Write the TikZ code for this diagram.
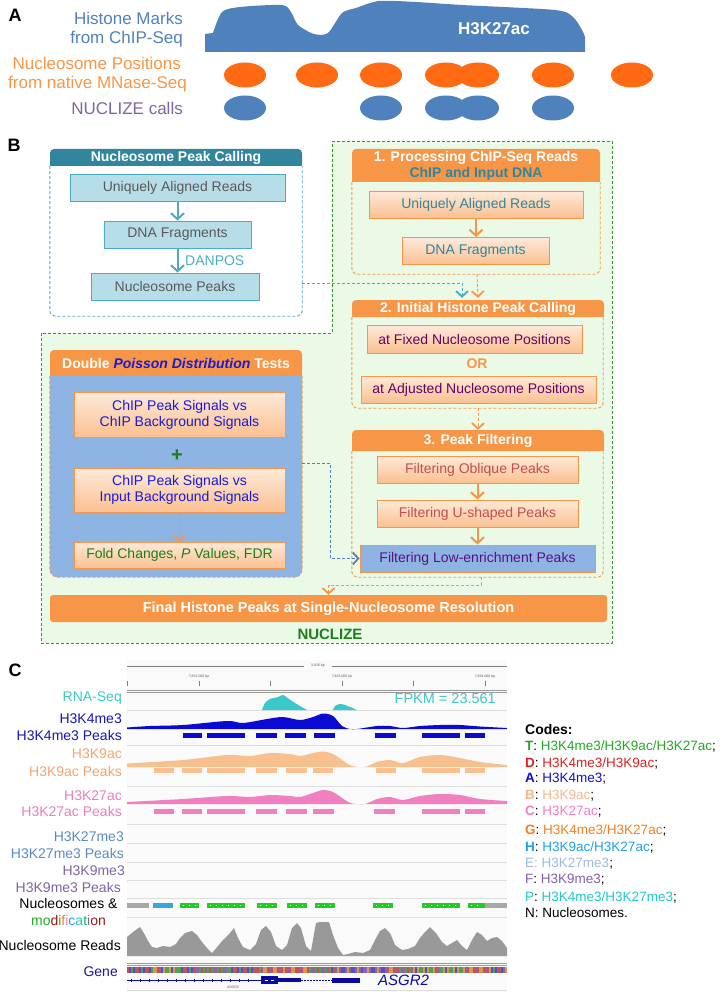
\documentclass[tikz,border=0pt]{standalone}
\usepackage{fontspec}
\setmainfont{Liberation Sans}
\usetikzlibrary{arrows.meta,calc}
\definecolor{tealH}{HTML}{31859C}
\definecolor{tealL}{HTML}{4BACC6}
\definecolor{lblue}{HTML}{B7DEE8}
\definecolor{orng}{HTML}{F79646}
\definecolor{oTop}{HTML}{FDEADA}
\definecolor{oBot}{HTML}{FBC090}
\definecolor{bluebox}{HTML}{8EB4E3}
\definecolor{lgreen}{HTML}{EAFAE6}
\definecolor{gdash}{HTML}{2E9A2E}
\definecolor{gray6}{HTML}{595959}
\definecolor{purp}{HTML}{660066}
\definecolor{redb}{HTML}{C0504D}
\definecolor{purpL}{HTML}{5B1080}
\definecolor{blueT}{HTML}{1A1AD6}
\definecolor{greenT}{HTML}{1A7F1A}
\definecolor{steelA}{HTML}{4F81BD}
\definecolor{orngN}{HTML}{FF6A13}
\definecolor{purpA}{HTML}{8064A2}
\definecolor{rnaC}{HTML}{3CC8C8}
\definecolor{k4C}{HTML}{0A0AD2}
\definecolor{k4L}{HTML}{1515B8}
\definecolor{k9C}{HTML}{F8C08E}
\definecolor{k9L}{HTML}{F2A46C}
\definecolor{k27C}{HTML}{F080C0}
\definecolor{k27L}{HTML}{EE7DBE}
\definecolor{k27me3L}{HTML}{5A8AC6}
\definecolor{k9me3L}{HTML}{8064A2}
\definecolor{nucG}{HTML}{22CC22}
\definecolor{nucB}{HTML}{33A8DD}
\definecolor{grayN}{HTML}{A8A8A8}
\definecolor{readsC}{HTML}{999999}
\definecolor{geneC}{HTML}{0A0AA0}
\definecolor{geneL}{HTML}{1A1A90}
\definecolor{sepC}{HTML}{DDDDDD}
\definecolor{sqR}{HTML}{C85050}
\definecolor{sqG}{HTML}{50A050}
\definecolor{sqB}{HTML}{5050C8}
\definecolor{sqO}{HTML}{D89848}
\definecolor{sqP}{HTML}{9060A8}
\definecolor{cT}{HTML}{22AA22}
\definecolor{cD}{HTML}{E02020}
\definecolor{cA}{HTML}{1010D0}
\definecolor{cB}{HTML}{F5B88C}
\definecolor{cC}{HTML}{EE80C8}
\definecolor{cG}{HTML}{F08020}
\definecolor{cH}{HTML}{20A0E0}
\definecolor{cE}{HTML}{A0B8E0}
\definecolor{cF}{HTML}{8060B0}
\definecolor{cP}{HTML}{20C8C8}
\newcommand\mkhdr[5]{\fill[#1,rounded corners=4pt] (#2,#3) rectangle (#4,#5); \fill[#1] (#2,{(#3+#5)/2}) rectangle (#4,#5);}
\tikzset{
 fbox/.style={font=\fontsize{14}{16.5}\selectfont},
 tbox/.style={draw=tealL, fill=lblue, line width=0.9pt, text=gray6, inner sep=0pt, minimum height=27pt, fbox},
 obox/.style={draw=orng, line width=0.9pt, top color=oTop, bottom color=oBot, inner sep=0pt, minimum height=27pt, fbox, align=center},
 hdr/.style={text=white, inner sep=0pt, font=\bfseries\fontsize{14}{17}\selectfont, align=center},
 sarrT/.style={draw=tealL, line width=2pt, -{Straight Barb[length=6pt,width=13pt,line width=2pt]}},
 sarrO/.style={draw=orng, line width=2pt, -{Straight Barb[length=6pt,width=13pt,line width=2pt]}},
 dsh/.style={line width=0.9pt, dash pattern=on 3pt off 2pt},
 dtip/.style={-{Straight Barb[length=5.5pt,width=12pt,line width=1.8pt]}},
 lblA/.style={anchor=east, inner sep=0pt, font=\fontsize{17}{20}\selectfont},
 lblC/.style={anchor=east, inner sep=0pt, font=\fontsize{14}{17}\selectfont},
 code/.style={anchor=west, inner sep=0pt, font=\fontsize{13.5}{16}\selectfont},
 panel/.style={inner sep=0pt, font=\bfseries\fontsize{18}{20}\selectfont},
 tiny/.style={inner sep=0pt, font=\fontsize{3.5}{4}\selectfont, text=gray6},
}
\begin{document}
\begin{tikzpicture}[x=1pt,y=-1pt]
\useasboundingbox (0,0) rectangle (721,992);
% ================= Panel A =================
\node[panel] (pA) at (15,15) {A};
\node[lblA, text=steelA] (a1) at (183,18) {Histone Marks};
\node[lblA, text=steelA] (a2) at (183,39) {from ChIP-Seq};
\node[lblA, text=orng] (a3) at (181,63) {Nucleosome Positions};
\node[lblA, text=orng] (a4) at (187,84) {from native MNase-Seq};
\node[lblA, text=purpA] (a5) at (183,108) {NUCLIZE calls};
\fill[steelA] (205,52) -- (205,34) -- plot[smooth,tension=0.45] coordinates {(213,33) (222,12) (240,7) (282,5) (291,12) (298,25) (314,34) (328,33) (342,13) (356,8) (379,1) (416,2) (462,5) (555,10) (573,17) (582,30) (585,37)} -- (585,52) -- cycle;
\node[inner sep=0pt, text=white, font=\bfseries\fontsize{17}{20}\selectfont] (k27lab) at (494,29) {H3K27ac};
\foreach \x in {245,317,381,446,478,553,632} \fill[orngN] (\x,75) ellipse [x radius=21pt, y radius=12.5pt];
\foreach \x in {245,381,446,478,553} \fill[steelA] (\x,108) ellipse [x radius=21pt, y radius=12.5pt];
% ================= Panel B =================
\node[panel] (pB) at (14,145) {B};
\draw[gdash, dsh, fill=lgreen] (332,141) -- (612,141) -- (612,643) -- (41,643) -- (41,333) -- (332,333) -- cycle;
% left teal container
\mkhdr{tealH}{50}{149}{302}{166}
\node[hdr, minimum width=252pt, minimum height=17pt] (h0) at (176,157.5) {Nucleosome Peak Calling};
\draw[tealL, dsh, rounded corners=6pt] (h0.south west) -- ++(0,150) -| (h0.south east);
\node[tbox, minimum width=215pt] (lb1) at (177.5,187.5) {Uniquely Aligned Reads};
\node[tbox, minimum width=147pt] (lb2) at (177.5,234.5) {DNA Fragments};
\node[tbox, minimum width=168pt] (lb3) at (175,286.5) {Nucleosome Peaks};
\draw[sarrT] (lb1.south) -- (lb2.north);
\draw[sarrT] (lb2.south) -- (lb2.south |- lb3.north);
\node[anchor=west, inner sep=0pt, text=tealL, fbox] (danpos) at (185,261) {DANPOS};
% right box 1
\mkhdr{orng}{352}{149}{600}{182}
\node[hdr, minimum width=248pt, minimum height=33pt] (h1) at (476,165.5) {1. Processing ChIP-Seq Reads\\[-1pt] \textcolor{tealH}{ChIP and Input DNA}};
\draw[orng, dsh, rounded corners=6pt] (h1.south west) -- ++(0,92) -| (h1.south east);
\node[obox, minimum width=214pt, text=tealH] (rb1) at (476,204.5) {Uniquely Aligned Reads};
\node[obox, minimum width=147pt, text=tealH] (rb2) at (475.5,251) {DNA Fragments};
\draw[sarrO] (rb1.south) -- (rb1.south |- rb2.north);
% right box 2
\mkhdr{orng}{352}{300}{604}{317}
\node[hdr, minimum width=252pt, minimum height=17pt] (h2) at (478,308.5) {2. Initial Histone Peak Calling};
\draw[orng, dsh, rounded corners=6pt] (h2.south west) -- ++(0,91) -| ([xshift=-1pt]h2.south east);
\node[obox, minimum width=215pt, minimum height=28pt, text=purp] (fixed) at (474.5,339) {at Fixed Nucleosome Positions};
\node[inner sep=0pt, text=orng, font=\bfseries\fontsize{14}{16}\selectfont] (or) at (477,364) {OR};
\node[obox, minimum width=235pt, text=purp] (adj) at (478.5,389.5) {at Adjusted Nucleosome Positions};
% right box 3
\mkhdr{orng}{352}{430}{604}{451}
\node[hdr, minimum width=252pt, minimum height=21pt] (h3) at (478,440.5) {3. Peak Filtering};
\draw[orng, dsh, rounded corners=6pt] (h3.south west) -- ++(0,126) -| ([xshift=-1pt]h3.south east);
\node[obox, minimum width=201pt, text=redb] (obl) at (477.5,469.5) {Filtering Oblique Peaks};
\node[obox, minimum width=201pt, text=redb] (ush) at (477.5,513.5) {Filtering U-shaped Peaks};
\node[draw=orng, line width=0.9pt, fill=bluebox, inner sep=0pt, minimum height=27pt, minimum width=235pt, fbox, text=purpL] (low) at (477.5,558.5) {Filtering Low-enrichment Peaks};
\draw[sarrO] (obl.south) -- (obl.south |- ush.north);
\draw[sarrO] (ush.south) -- (ush.south |- low.north);
% Double Poisson
\mkhdr{orng}{50}{350}{302}{376}
\node[hdr, minimum width=252pt, minimum height=26pt] (hp) at (176,363) {Double \textcolor{blueT}{\itshape Poisson Distribution} Tests};
\draw[orng, dsh, fill=bluebox, rounded corners=8pt] (hp.south west) -- ++(0,201) -| (hp.south east);
\node[obox, minimum width=211pt, minimum height=45pt, text=blueT, font=\fontsize{14}{16}\selectfont] (c1) at (179.5,414.5) {ChIP Peak Signals vs\\ChIP Background Signals};
\node[inner sep=0pt, text=greenT, font=\bfseries\fontsize{20}{20}\selectfont] (plus) at (177,456) {+};
\node[obox, minimum width=211pt, minimum height=44pt, text=blueT, font=\fontsize{14}{16}\selectfont] (c2) at (179.5,490) {ChIP Peak Signals vs\\Input Background Signals};
\node[obox, minimum width=211pt, minimum height=26pt, text=greenT] (fold) at (179.5,555) {Fold Changes, \textit{P} Values, FDR};
\draw[draw=orng, line width=1.5pt, -{Straight Barb[length=6pt,width=13pt,line width=1.5pt]}] (c2.south) -- (fold.north);
% final
\node[fill=orng, rounded corners=3pt, minimum width=557pt, minimum height=27pt, inner sep=0pt, text=white, font=\bfseries\fontsize{14.5}{17}\selectfont] (final) at (328.5,608.5) {Final Histone Peaks at Single-Nucleosome Resolution};
\node[inner sep=0pt, text=greenT, font=\bfseries\fontsize{15}{17}\selectfont] (nuclize) at (330,634) {NUCLIZE};
% dashed connectors
\coordinate (nb) at (302,283);
\coordinate (pb) at (302,463);
\coordinate (b1bot) at (477,274);
\coordinate (b2bot) at (478,408);
\coordinate (b3bot) at (481,577);
\draw[tealL, dsh, dtip] (nb) -| ([xshift=-16pt,yshift=2pt]h2.north);
\draw[orng, dsh, dtip] (b1bot) -- ([yshift=2pt]h2.north);
\draw[orng, dsh, dtip] (b2bot) -- (h3.north);
\draw[steelA, dsh, dtip] (pb) -- ++(28,0) |- (low.west);
\draw[orng, dsh, dtip] (b3bot) -- ++(0,8) -| (final.north);
% ================= Panel C =================
\node[panel] (pC) at (15,670) {C};
\fill[black!2] (127,660) rectangle (507,992);
% ruler
\draw[gray, line width=0.5pt] (127,666) -- (304,666) (332,666) -- (507,666);
\node[tiny] (rl) at (318,666) {3,026 bp};
\node[tiny] (t1) at (199,677) {7,832,000 bp};
\node[tiny] (t2) at (342,677) {7,833,000 bp};
\node[tiny] (t3) at (485,677) {7,834,000 bp};
\foreach \x in {127,199,270,342,413,485} \draw[gray, line width=0.4pt] (\x,681) -- (\x,686);
\draw[gray!80, line width=1pt] (127,690) -- (507,690);
\draw[gray!80, line width=1pt] (127,692.5) -- (507,692.5);
\foreach \yy in {710,745,786,824,843,862,880,898,917,990} \draw[sepC, line width=0.6pt] (127,\yy) -- (507,\yy);
% labels
\node[lblC, text=rnaC] (lrna) at (122,698) {RNA-Seq};
\node[lblC, text=k4L] (lk4) at (122,719) {H3K4me3};
\node[lblC, text=k4L] (lk4p) at (122,735) {H3K4me3 Peaks};
\node[lblC, text=k9L] (lk9) at (122,754) {H3K9ac};
\node[lblC, text=k9L] (lk9p) at (122,771) {H3K9ac Peaks};
\node[lblC, text=k27L] (lk27) at (122,796) {H3K27ac};
\node[lblC, text=k27L] (lk27p) at (122,811) {H3K27ac Peaks};
\node[lblC, text=k27me3L] (lk27m) at (124,837) {H3K27me3};
\node[lblC, text=k27me3L] (lk27mp) at (124,853) {H3K27me3 Peaks};
\node[lblC, text=k9me3L] (lk9m) at (125,871) {H3K9me3};
\node[lblC, text=k9me3L] (lk9mp) at (121,887) {H3K9me3 Peaks};
\node[inner sep=0pt, font=\fontsize{14}{17}\selectfont] (lnuc) at (68.5,903) {Nucleosomes \&};
\node[inner sep=0pt, font=\fontsize{14}{17}\selectfont] (lmod) at (68.5,920) {\textcolor{cT}{mo}\textcolor{cD!70!black}{d}\textcolor{cT}{i}\textcolor{cG}{f}\textcolor{cC}{i}\textcolor{cH}{c}\textcolor{cP}{a}\textcolor{cT!70!cP}{t}\textcolor{cF}{i}\textcolor{cD!70!black}{on}};
\node[lblC] (lreads) at (121,945) {Nucleosome Reads};
\node[lblC, text=geneL] (lgene) at (118,972) {Gene};
\node[anchor=east, inner sep=0pt, text=rnaC, font=\fontsize{14.5}{17}\selectfont] (fpkm) at (496,699) {FPKM = 23.561};
% RNA signal
\fill[rnaC] plot[smooth] coordinates {(262,710) (265,703) (270,699) (278,697) (283,695) (289,699) (295,703) (300,706) (307,710)} -- cycle;
\fill[rnaC] plot[smooth] coordinates {(333,710) (335,706) (340,704) (345,705) (350,707) (357,710)} -- cycle;
% H3K4me3
\fill[k4C] (127,729) -- plot[smooth,tension=0.5] coordinates {(127,727.5) (150,726) (183,725) (227,721) (243,723) (267,719) (283,717) (300,720) (313,717) (323,713.5) (333,716) (342,726) (350,729) (357,729) (377,726) (390,726) (403,728) (420,726) (440,725) (460,725) (480,726.5) (507,728)} -- (507,729) -- cycle;
\foreach \a/\b in {183/202,207/245,256/277,285/306,314/335,375/396,422/460,465/485} \fill[k4C] (\a,733) rectangle (\b,737.5);
% H3K9ac
\fill[k9C] (127,767) -- plot[smooth,tension=0.5] coordinates {(127,763.5) (183,760) (227,755) (250,756) (270,753) (290,754) (300,756) (313,753) (323,751.5) (333,754) (345,762) (352,766) (365,767) (377,762) (390,760) (403,763) (420,757) (440,755) (460,758) (480,762) (507,765)} -- (507,767) -- cycle;
\foreach \a/\b in {154/174,182/202,207/245,256/277,286/307,313/333,376/396,422/460,465/485} \fill[k9C] (\a,768) rectangle (\b,772.5);
% H3K27ac
\fill[k27C] (127,804) -- plot[smooth,tension=0.5] coordinates {(127,802) (183,799) (227,796) (250,797) (270,795) (290,796) (300,797) (313,793) (323,790) (333,792) (345,800) (352,803.5) (365,804) (377,799) (390,797) (403,800) (420,796) (440,794) (460,795) (480,799) (507,801)} -- (507,804) -- cycle;
\foreach \a/\b in {154/174,182/202,207/245,256/277,286/307,313/334,374/395,422/460,465/485} \fill[k27C] (\a,809) rectangle (\b,813.5);
% nucleosome bars
\fill[grayN] (127,902.5) rectangle (149,907.5);
\fill[nucB] (153,902.5) rectangle (173,907.5);
\foreach \a/\b in {180/199,207/245,257/277,287/307,315/335,373/393,422/460,468/485} {\fill[nucG] (\a,902.5) rectangle (\b,907.5);
 \draw[white, line width=0.5pt, dash pattern=on 1pt off 5pt] (\a+3,905) -- (\b-2,905);}
\fill[grayN] (485,902.5) rectangle (507,907.5);
% nucleosome reads
\fill[readsC] plot coordinates {(127,956) (127,937) (133,932) (140,927) (145,935) (148,941) (152,947) (157,948) (163,946) (170,947) (176,944) (180,938) (185,933) (192,931) (197,935) (202,942) (207,948) (212,953) (218,946) (223,940) (230,933) (234,928) (238,938) (243,947) (250,950) (256,944) (261,930) (266,926) (271,932) (276,946) (282,950) (287,945) (292,928) (297,923) (301,928) (306,946) (311,951) (316,923) (320,922) (329,922) (333,935) (338,948) (343,955) (348,954) (355,952) (363,953) (370,950) (375,940) (380,931) (385,928) (390,933) (395,945) (402,950) (408,949) (415,946) (420,938) (425,932) (430,927) (436,933) (442,942) (447,946) (452,943) (457,940) (462,946) (467,950) (472,940) (477,932) (482,935) (487,941) (492,938) (497,937) (502,941) (507,948) (507,956)} -- cycle;
% gene track
\draw[gray!80, line width=0.8pt] (127,963) -- (507,963);
\draw[gray!80, line width=0.8pt] (127,965.3) -- (507,965.3);
\foreach \i in {0,...,189}{
 \pgfmathtruncatemacro\k{mod(mod(\i,17)*mod(\i,13)+\i,5)}
 \ifcase\k \def\cc{sqR}\or\def\cc{sqG}\or\def\cc{sqB}\or\def\cc{sqO}\else\def\cc{sqP}\fi
 \fill[\cc] (127+2*\i,967) rectangle ++(2,6);
}
\draw[geneC, line width=0.6pt] (127,980) -- (261,980);
\foreach \x in {131,140,...,256} \draw[geneC, line width=0.5pt] (\x,978.5) -- (\x,981.5);
\fill[geneC] (261,976) rectangle (278,984);
\draw[white, line width=0.5pt] (265,980) -- (268,980) (271,980) -- (274,980);
\fill[geneC] (278,978) rectangle (301,982);
\draw[geneC, line width=0.6pt, dash pattern=on 1.5pt off 1.5pt] (301,980) -- (332,980);
\fill[geneC] (332,977.5) rectangle (360,982.5);
\node[anchor=west, inner sep=0pt, text=geneC, font=\itshape\fontsize{15}{17}\selectfont] (asgr) at (378,980) {ASGR2};
\node[tiny] (asgrs) at (233,987) {ASGR2};
% codes
\node[code, font=\bfseries\fontsize{14}{16}\selectfont] (codes) at (525,729) {Codes:};
\node[code] (kT) at (525,746) {\textcolor{cT}{\textbf{T}}: \textcolor{cT}{H3K4me3/H3K9ac/H3K27ac};};
\node[code] (kD) at (525,763) {\textcolor{cD}{\textbf{D}}: \textcolor{cD}{H3K4me3/H3K9ac};};
\node[code] (kA) at (525,779) {\textcolor{cA}{\textbf{A}}: \textcolor{cA}{H3K4me3};};
\node[code] (kB) at (525,796) {\textcolor{cB}{\textbf{B}}: \textcolor{cB}{H3K9ac};};
\node[code] (kC) at (525,812) {\textcolor{cC}{\textbf{C}}: \textcolor{cC}{H3K27ac};};
\node[code] (kG) at (525,830) {\textcolor{cG}{\textbf{G}}: \textcolor{cG}{H3K4me3/H3K27ac};};
\node[code] (kH) at (525,847) {\textcolor{cH}{\textbf{H}}: \textcolor{cH}{H3K9ac/H3K27ac};};
\node[code] (kE) at (525,864) {\textcolor{cE}{E: H3K27me3};};
\node[code] (kF) at (525,880) {\textcolor{cF}{F}: \textcolor{cF}{H3K9me3};};
\node[code] (kP) at (525,897) {\textcolor{cP}{P}: \textcolor{cP}{H3K4me3/H3K27me3};};
\node[code] (kN) at (525,913) {N: Nucleosomes.};
\end{tikzpicture}
\end{document}
